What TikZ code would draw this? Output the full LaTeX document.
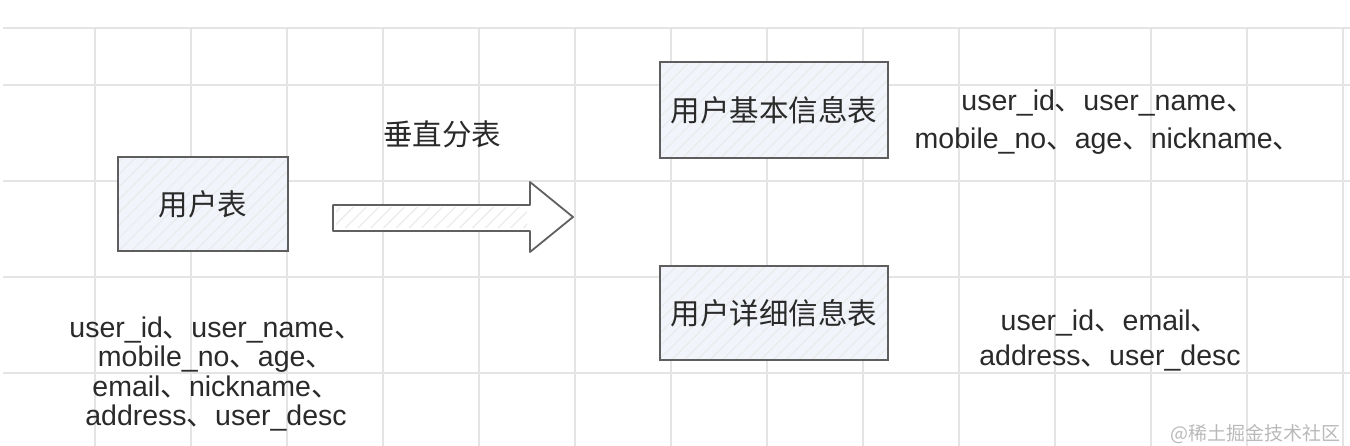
\documentclass[tikz,border=0pt]{standalone}
\usepackage{fontspec}
\setmainfont{Liberation Sans}
\newfontfamily\cjk{Noto Sans CJK SC}
\usetikzlibrary{patterns.meta}
\newcommand{\dun}{{\cjk 、}}
\definecolor{gridc}{HTML}{E4E4E4}
\definecolor{boxfill}{HTML}{F1F4FA}
\definecolor{boxline}{HTML}{5E5E5E}
\definecolor{txt}{HTML}{2A2A2A}
\tikzset{
  gridline/.style={draw=gridc, line width=1.4pt},
  tablebox/.style={fill=boxfill, inner sep=0pt},
  boxborder/.style={draw=boxline, line width=2pt},
  boxlabel/.style={font=\cjk\fontsize{29.5}{31}\selectfont, text=txt},
  hatch/.style={pattern={Lines[angle=45,distance=9pt,line width=1.2pt]}, pattern color=gray!16},
  listtext/.style={align=center, text=txt, inner sep=0pt},
  bigarrow/.style={draw=gray!75!black, line width=1.8pt, fill=white, line join=round},
}
\begin{document}
\begin{tikzpicture}[x=1pt,y=-1pt]
\useasboundingbox (0,0) rectangle (1350,446);
\clip (0,0) rectangle (1350,446);
% grid
\foreach \gx in {95,191,287,383,479,575,671,767,863,959,1055,1151,1247,1343}
  \draw[gridline] (\gx,28) -- (\gx,446);
\foreach \gy in {28,85,181,277,373}
  \draw[gridline] (3,\gy) -- (1350,\gy);
% boxes
\node[tablebox, minimum width=169pt, minimum height=93pt] (user) at (203,204) {};
\fill[hatch] (user.south west) rectangle (user.north east);
\draw[boxborder] (user.south west) rectangle (user.north east);
\node[boxlabel] (usert) at (user.center) {用户表};

\node[tablebox, minimum width=228pt, minimum height=95pt] (basic) at (774,110) {};
\fill[hatch] (basic.south west) rectangle (basic.north east);
\draw[boxborder] (basic.south west) rectangle (basic.north east);
\node[boxlabel] (basict) at (basic.center) {用户基本信息表};

\node[tablebox, minimum width=228pt, minimum height=94pt] (detail) at (774,313) {};
\fill[hatch] (detail.south west) rectangle (detail.north east);
\draw[boxborder] (detail.south west) rectangle (detail.north east);
\node[boxlabel] (detailt) at (detail.center) {用户详细信息表};

% big arrow
\path[bigarrow] (333,205) -- (530,205) -- (530,182) -- (573,217) -- (530,252) -- (530,231) -- (333,231) -- cycle;
\fill[hatch] (336,208) -- (527,208) -- (527,228) -- (336,228) -- cycle;
\node[boxlabel] (label) at (442,134) {垂直分表};

% field lists
\node[listtext, font=\fontsize{28.5}{29.5}\selectfont] (userf) at (216,374)
  {user\_id\dun user\_name\dun\\ mobile\_no\dun age\dun\\ email\dun nickname\dun\\ address\dun user\_desc};
\node[listtext, font=\fontsize{28.5}{37.5}\selectfont] (basicf) at (1108,122)
  {user\_id\dun user\_name\dun\\ mobile\_no\dun age\dun nickname\dun};
\node[listtext, font=\fontsize{28.5}{35}\selectfont] (detailf) at (1110,341)
  {user\_id\dun email\dun\\ address\dun user\_desc};

% watermark
\node[text=gray!55, font=\cjk\fontsize{19}{21}\selectfont, anchor=south east, inner sep=1pt] (wm) at (1342,445) {@稀土掘金技术社区};
\end{tikzpicture}
\end{document}
